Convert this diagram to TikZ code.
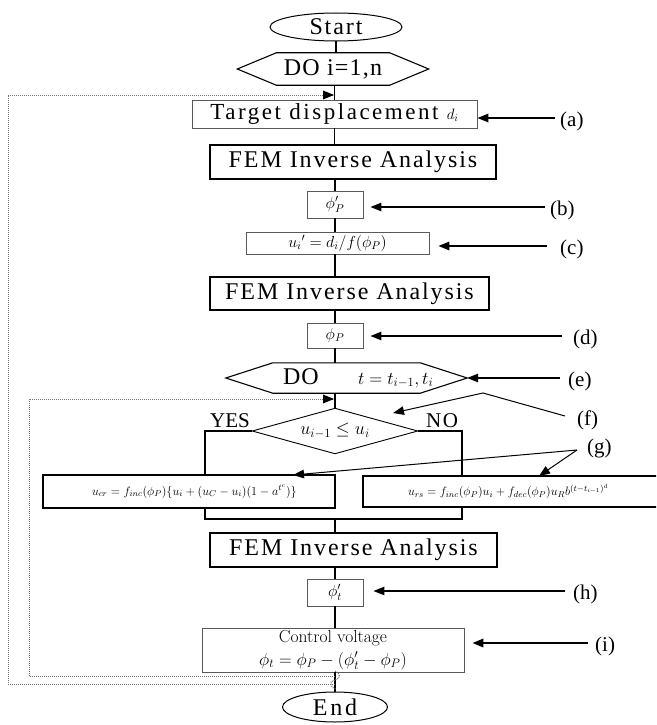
\RequirePackage{fix-cm}
\documentclass[tikz,border=0pt]{standalone}
\usepackage{fontspec}
\usetikzlibrary{arrows.meta,shapes.geometric}
\newfontfamily\rf{Liberation Serif}
\newcommand{\setfs}[1]{\fontsize{#1}{#1}\selectfont}
\begin{document}
\begin{tikzpicture}[x=1pt,y=-1pt,
  conn/.style={line width=1.3pt},
  thinbox/.style={draw=black!65, line width=0.9pt, inner sep=0pt},
  fembox/.style={draw, line width=2.6pt, inner sep=0pt, minimum height=34pt, font=\rf\setfs{24}\addfontfeature{LetterSpace=8}},
  shp/.style={line width=1.1pt},
  lab/.style={anchor=west, inner sep=0pt, font=\rf\setfs{21}},
  tip/.style={-{Triangle[length=11pt,width=8.5pt]}},
  lar/.style={line width=1.2pt, tip},
  larb/.style={line width=1.9pt, tip},
  dotl/.style={draw=black!55, line width=1pt, dash pattern=on 1pt off 1pt},
]
\useasboundingbox (0,0) rectangle (656,725);
\clip (0,0) rectangle (656,725);

% ---------- nodes ----------
\node[ellipse, draw, line width=1pt, minimum width=132pt, minimum height=28pt, inner sep=0pt,
      font=\rf\setfs{24}\addfontfeature{LetterSpace=8}] (start) at (336,27) {Start};
\node[minimum width=191pt, minimum height=32pt, inner sep=0pt,
      font=\rf\setfs{24}\addfontfeature{LetterSpace=5}] (hexA) at (333,69) {DO i=1,n};
\node[thinbox, minimum width=285pt, minimum height=28pt,
      font=\rf\setfs{23}\addfontfeature{LetterSpace=11}] (tgt) at (334.5,114) {Target displacement {\setfs{15}$d_i$}};
\node[fembox, minimum width=286pt] (fem1) at (353,162) {FEM Inverse Analysis};
\node[thinbox, minimum width=56pt, minimum height=27pt, font=\setfs{16}] (phiPp) at (335,204.5) {$\phi'_P$};
\node[thinbox, minimum width=183pt, minimum height=22pt, font=\setfs{16}] (ui) at (337.5,243) {$u_i{}'=d_i/f(\phi_P)$};
\node[fembox, minimum width=279pt, minimum height=33pt] (fem2) at (349.5,293.5) {FEM Inverse Analysis};
\node[thinbox, minimum width=56pt, minimum height=25pt, font=\setfs{16}] (phiP) at (335,335.5) {$\phi_P$};
\node[minimum width=241pt, minimum height=30pt, inner sep=0pt] (hexB) at (346.5,378)
  {\makebox[241pt][l]{\hspace*{57pt}\makebox[75pt][l]{\rf\setfs{24}\addfontfeature{LetterSpace=4}DO}{\setfs{18}$t=t_{i-1},t_i$}}};
\node[minimum width=165pt, minimum height=45pt, inner sep=0pt, font=\setfs{18}] (diam) at (335,431) {$u_{i-1}\le u_i$};
\node[inner sep=0pt, font=\rf\setfs{21}] (yes) at (230,421) {YES};
\node[inner sep=0pt, font=\rf\setfs{21}\addfontfeature{LetterSpace=8}] (no) at (442,421) {NO};
\node[draw, line width=1.4pt, minimum width=292pt, minimum height=33pt, inner sep=0pt, font=\setfs{12.2}] (yesbox) at (189,491.5)
  {\makebox[292pt][l]{\hspace*{49pt}$u_{cr}=f_{inc}(\phi_P)\{u_i+(u_C-u_i)(1-a^{t^c})\}$}};
\node[draw, line width=1.4pt, minimum width=307pt, minimum height=31pt, inner sep=0pt, font=\setfs{12.2}] (nobox) at (516.5,491.5)
  {\makebox[307pt][l]{\hspace*{45pt}$u_{rs}=f_{inc}(\phi_P)u_i+f_{dec}(\phi_P)u_Rb^{(t-t_{i-1})^d}$}};
\node[fembox, minimum width=287pt] (fem3) at (353.5,550) {FEM Inverse Analysis};
\node[thinbox, minimum width=56pt, minimum height=27pt, font=\setfs{16}] (phit) at (335,592.5) {$\phi'_t$};
\node[thinbox, minimum width=262pt, minimum height=44pt, align=center, font=\setfs{17.5}] (ctrl) at (333,650)
  {Control voltage\\[5pt]$\phi_t=\phi_P-(\phi'_t-\phi_P)$};
\node[ellipse, draw, line width=1pt, minimum width=105pt, minimum height=30pt, inner sep=0pt,
      font=\rf\setfs{24}\addfontfeature{LetterSpace=12}] (end) at (335,707) {End};

% ---------- shapes ----------
\draw[shp] (hexA.west) -- ([xshift=39pt]hexA.north west) -- ([xshift=-39pt]hexA.north east) -- (hexA.east)
  -- ([xshift=-39pt]hexA.south east) -- ([xshift=39pt]hexA.south west) -- cycle;
\draw[shp] (hexB.west) -- ([xshift=47pt]hexB.north west) -- ([xshift=-47pt]hexB.north east) -- (hexB.east)
  -- ([xshift=-47pt]hexB.south east) -- ([xshift=47pt]hexB.south west) -- cycle;
\draw[line width=0.9pt] (diam.north) -- (diam.east) -- (diam.south) -- (diam.west) -- cycle;

% ---------- connectors ----------
\draw[conn] (start.south) -- (start.south |- hexA.north);
\draw[conn] (tgt.north |- hexA.south) -- (tgt.north);
\draw[conn] (tgt.south) -- (tgt.south |- fem1.north);
\draw[conn] (phiPp.north |- fem1.south) -- (phiPp.north);
\draw[conn] (phiPp.south) -- (phiPp.south |- ui.north);
\draw[conn] (phiP.north |- ui.south) -- (phiP.north |- fem2.north);
\draw[conn] (phiP.north |- fem2.south) -- (phiP.north);
\draw[conn] (phiP.south) -- (phiP.south |- hexB.north);
\draw[conn] (diam.north |- hexB.south) -- (diam.north);
\draw[line width=1.6pt] (diam.west) -| ([xshift=16pt]yesbox.north);
\draw[line width=1.6pt] (diam.east) -| ([xshift=-54.5pt]nobox.north);
\draw[line width=1.6pt] ([xshift=16pt]yesbox.south) -- ++(0,10) -| ([xshift=-54.5pt]nobox.south);
\coordinate (mg) at (335,518);
\draw[conn] (mg) -- (mg |- fem3.north);
\draw[conn] (phit.north |- fem3.south) -- (phit.north);
\draw[conn] (phit.south) -- (phit.south |- ctrl.north);
\draw[conn] (end.north |- ctrl.south) -- (end.north);

% ---------- dotted loops ----------
\coordinate (ob) at (335,684);
\coordinate (ot) at (333,95);
\coordinate (ib) at (335,676);
\coordinate (it) at (333,399);
\draw[dotl] (ob) -- (8,684) -- (8,95) -- (ot);
\draw[dotl] (ib) -- (29,676) -- (29,399) -- (it);
\fill ([xshift=1pt]ot) -- ++(-11,-4.5) -- ++(0,9) -- cycle;
\fill ([xshift=1pt]it) -- ++(-11,-4.5) -- ++(0,9) -- cycle;
\draw[dotl] (335,671) .. controls (341,673) and (341,679) .. (335,680) .. controls (329,681) and (329,687) .. (336,689);

% ---------- side labels ----------
\node[lab] (la) at (560,121) {(a)};
\node[lab] (lb) at (550,210) {(b)};
\node[lab] (lc) at (560,249) {(c)};
\node[lab] (ld) at (573,339) {(d)};
\node[lab] (le) at (568,381) {(e)};
\node[lab] (lf) at (577,420) {(f)};
\node[lab] (lg) at (587,448) {(g)};
\node[lab] (lh) at (573,594) {(h)};
\node[lab] (li) at (595,646) {(i)};

\coordinate (sa) at ([xshift=-5pt,yshift=3pt]la.west);
\coordinate (sb) at ([xshift=-5pt,yshift=3pt]lb.west);
\coordinate (sc) at ([xshift=-13pt,yshift=3pt]lc.west);
\coordinate (sd) at ([xshift=-11pt,yshift=3pt]ld.west);
\coordinate (se) at ([xshift=-8pt,yshift=3pt]le.west);
\coordinate (sh) at ([xshift=-8pt,yshift=3pt]lh.west);
\coordinate (si) at ([xshift=-7pt,yshift=3pt]li.west);
\draw[larb] (sa) -- (sa -| tgt.east);
\draw[lar, shorten >=7pt] (sb) -- (sb -| phiPp.east);
\draw[larb, shorten >=9pt] (sc) -- (sc -| ui.east);
\draw[lar, shorten >=7pt] (sd) -- (sd -| phiP.east);
\draw[lar] (se) -- (se -| hexB.east);
\draw[lar, shorten >=10pt] (sh) -- (sh -| phit.east);
\draw[larb, shorten >=8pt] (si) -- (si -| ctrl.east);

\coordinate (fk) at (483,393);
\coordinate (ftip) at (393,413);
\draw[line width=1pt, tip] ([xshift=-12pt,yshift=4pt]lf.west) -- (fk) -- (ftip);
\coordinate (gs) at ([xshift=-10pt,yshift=-2pt]lg.west);
\coordinate (g1) at (293,475);
\coordinate (g2) at (539,476);
\draw[line width=1pt, tip] (gs) -- (g1);
\draw[line width=1pt, tip] (gs) -- (g2);
\end{tikzpicture}
\end{document}
